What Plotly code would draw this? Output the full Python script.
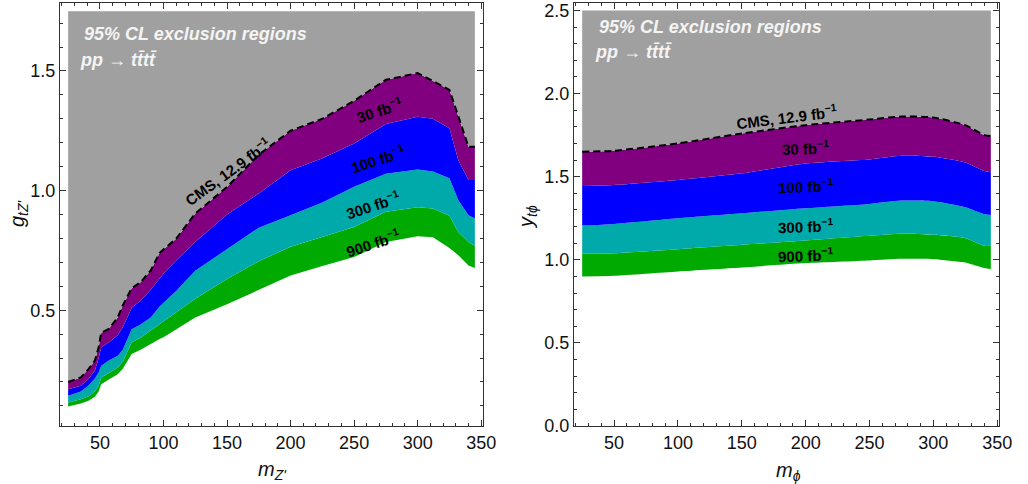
import plotly.graph_objects as go

# ---- Z' model: boundaries of the excluded regions in (m_Z', g_tZ') ----
mzp = [25, 35, 41, 46, 49, 51, 57, 64, 68, 75, 82, 90, 97, 101, 110, 125,
       150, 175, 200, 225, 250, 275, 300, 312, 325, 332, 340, 345]
zp_cms = [0.200, 0.219, 0.254, 0.289, 0.345, 0.405, 0.422, 0.470, 0.520, 0.592,
          0.617, 0.666, 0.740, 0.757, 0.799, 0.904, 1.015, 1.150, 1.250, 1.300,
          1.375, 1.463, 1.491, 1.458, 1.421, 1.310, 1.183, 1.183]
zp_30 = [0.170, 0.184, 0.212, 0.247, 0.300, 0.345, 0.365, 0.395, 0.429, 0.510,
         0.540, 0.585, 0.632, 0.659, 0.708, 0.785, 0.900, 0.988, 1.085, 1.135,
         1.197, 1.278, 1.309, 1.300, 1.260, 1.127, 1.044, 1.044]
zp_100 = [0.142, 0.160, 0.185, 0.215, 0.240, 0.268, 0.290, 0.310, 0.335, 0.420,
          0.440, 0.470, 0.515, 0.536, 0.580, 0.665, 0.755, 0.845, 0.897, 0.950,
          1.016, 1.070, 1.088, 1.080, 1.051, 0.960, 0.897, 0.883]
zp_300 = [0.114, 0.128, 0.140, 0.160, 0.185, 0.219, 0.238, 0.260, 0.285, 0.366,
          0.385, 0.415, 0.445, 0.457, 0.490, 0.548, 0.630, 0.705, 0.765, 0.808,
          0.848, 0.911, 0.930, 0.925, 0.895, 0.827, 0.785, 0.768]
zp_900 = [0.098, 0.110, 0.122, 0.138, 0.160, 0.191, 0.210, 0.232, 0.255, 0.317,
          0.335, 0.360, 0.380, 0.390, 0.420, 0.470, 0.525, 0.585, 0.645, 0.685,
          0.722, 0.785, 0.809, 0.805, 0.760, 0.730, 0.687, 0.676]
zp_top = 1.75

# ---- scalar phi model: boundaries in (m_phi, y_tphi) ----
mphi = [25, 50, 100, 150, 200, 250, 275, 300, 325, 340, 345]
phi_cms = [1.650, 1.656, 1.700, 1.760, 1.810, 1.844, 1.862, 1.856, 1.810, 1.750, 1.744]
phi_30 = [1.444, 1.450, 1.480, 1.520, 1.580, 1.604, 1.626, 1.620, 1.586, 1.534, 1.526]
phi_100 = [1.206, 1.216, 1.250, 1.280, 1.310, 1.336, 1.356, 1.352, 1.316, 1.274, 1.270]
phi_300 = [1.036, 1.040, 1.064, 1.090, 1.116, 1.144, 1.156, 1.150, 1.130, 1.084, 1.084]
phi_900 = [0.900, 0.904, 0.930, 0.954, 0.980, 0.996, 1.006, 1.004, 0.984, 0.950, 0.944]
phi_top = 2.5

lumi_labels = ["30 fb<sup>−1</sup>", "100 fb<sup>−1</sup>",
               "300 fb<sup>−1</sup>", "900 fb<sup>−1</sup>"]
cms_label = "CMS, 12.9 fb<sup>−1</sup>"

GRAY = "#a0a0a0"
PURPLE = "#800080"
BLUE = "#0000ff"
CYAN = "#00aaaa"
GREEN = "#00aa00"
FONT = "Liberation Sans, Arial, sans-serif"

fig = go.Figure()


def add_panel(x, b900, b300, b100, b30, cms, top, xa, ya, shape):
    layers = [
        (b900, None),
        (b300, GREEN),
        (b100, CYAN),
        (b30, BLUE),
        (cms, PURPLE),
        ([top] * len(x), GRAY),
    ]
    for y, col in layers:
        fig.add_trace(go.Scatter(
            x=x, y=y, mode="lines", xaxis=xa, yaxis=ya,
            line=dict(width=0, shape=shape, smoothing=0.6),
            fill="tonexty" if col else None, fillcolor=col,
            hoverinfo="skip", showlegend=False))
    fig.add_trace(go.Scatter(
        x=x, y=cms, mode="lines", xaxis=xa, yaxis=ya,
        line=dict(color="black", width=2, dash="7px,4px", shape=shape, smoothing=0.6),
        hoverinfo="skip", showlegend=False))


add_panel(mzp, zp_900, zp_300, zp_100, zp_30, zp_cms, zp_top, "x", "y", "linear")
add_panel(mphi, phi_900, phi_300, phi_100, phi_30, phi_cms, phi_top, "x2", "y2", "spline")

W, H = 1028, 484
axis_common = dict(
    showgrid=False, zeroline=False, showline=True, linecolor="#333",
    linewidth=1, mirror="ticks", ticks="inside", ticklen=6, tickcolor="#333",
    tickfont=dict(family=FONT, size=18, color="#111"), automargin=False,
)
xaxis_common = dict(axis_common, range=[18.6, 351.4], tick0=0, dtick=50,
                    minor=dict(ticks="inside", dtick=10, ticklen=3, tickcolor="#333"))

fig.update_layout(
    width=W, height=H,
    margin=dict(l=0, r=0, t=0, b=0),
    paper_bgcolor="white", plot_bgcolor="white",
    font=dict(family=FONT, color="black"),
    xaxis=dict(xaxis_common, domain=[60 / W, 483 / W], anchor="y"),
    yaxis=dict(axis_common, domain=[1 - 426 / H, 1 - 3 / H], anchor="x",
               range=[0.016, 1.784], tick0=0, dtick=0.5, tickformat=".1f",
               minor=dict(ticks="inside", dtick=0.1, ticklen=3, tickcolor="#333")),
    xaxis2=dict(xaxis_common, domain=[574 / W, 999 / W], anchor="y2"),
    yaxis2=dict(axis_common, domain=[1 - 426 / H, 1 - 3 / H], anchor="x2",
                range=[0, 2.545], tick0=0, dtick=0.5, tickformat=".1f",
                minor=dict(ticks="inside", dtick=0.1, ticklen=3, tickcolor="#333")),
)

ann = []
# headline text inside each panel
head_font = dict(family=FONT, size=18, color="#f4f4f4")
for xp, y1, y2 in [(82, 34, 60), (597, 27, 52)]:
    ann.append(dict(xref="paper", yref="paper", x=xp / W, y=1 - y1 / H,
                    xanchor="left", yanchor="middle", showarrow=False,
                    text="<b><i>95% CL exclusion regions</i></b>", font=head_font))
    ann.append(dict(xref="paper", yref="paper", x=(xp - 4) / W, y=1 - y2 / H,
                    xanchor="left", yanchor="middle", showarrow=False,
                    text="<b><i>pp \u2192 tt\u0304tt\u0304</i></b>", font=head_font))

label_font = dict(family=FONT, size=15, color="black")
# band labels, Z' panel
for (lx, ly, ang), txt in zip([(269.7, 1.337, -18), (268.4, 1.135, -18),
                               (264.5, 0.943, -18), (264.5, 0.785, -18)], lumi_labels):
    ann.append(dict(xref="x", yref="y", x=lx, y=ly, text="<b>" + txt + "</b>",
                    xanchor="center", yanchor="middle",
                    textangle=ang, showarrow=False, font=label_font))
ann.append(dict(xref="x", yref="y", x=150, y=1.078, text="<b>" + cms_label + "</b>",
                xanchor="center", yanchor="middle",
                textangle=-36, showarrow=False, font=label_font))

# band labels, phi panel
for (lx, ly, ang), txt in zip([(200, 1.676, -2), (200, 1.446, -2),
                               (200, 1.206, -2), (200, 1.030, -2)], lumi_labels):
    ann.append(dict(xref="x2", yref="y2", x=lx, y=ly, text="<b>" + txt + "</b>",
                    xanchor="center", yanchor="middle",
                    textangle=ang, showarrow=False, font=label_font))
ann.append(dict(xref="x2", yref="y2", x=184.7, y=1.860, text="<b>" + cms_label + "</b>",
                xanchor="center", yanchor="middle",
                textangle=-7, showarrow=False, font=label_font))

# axis titles
title_font = dict(family=FONT, size=20, color="#111")
ann.append(dict(xref="paper", yref="paper", x=272 / W, y=1 - 470 / H,
                xanchor="center", yanchor="middle",
                text="<i>m</i><sub><i>Z'</i></sub>", showarrow=False, font=title_font))
ann.append(dict(xref="paper", yref="paper", x=788 / W, y=1 - 471 / H,
                xanchor="center", yanchor="middle",
                text="<i>m</i><sub><i>ϕ</i></sub>", showarrow=False, font=title_font))
ann.append(dict(xref="paper", yref="paper", x=18 / W, y=1 - 213 / H, textangle=-90,
                xanchor="center", yanchor="middle",
                text="<i>g</i><sub><i>tZ'</i></sub>", showarrow=False, font=title_font))
ann.append(dict(xref="paper", yref="paper", x=527 / W, y=1 - 217 / H, textangle=-90,
                xanchor="center", yanchor="middle",
                text="<i>y</i><sub><i>tϕ</i></sub>", showarrow=False, font=title_font))

fig.update_layout(annotations=ann)
fig.write_html("out.html")
